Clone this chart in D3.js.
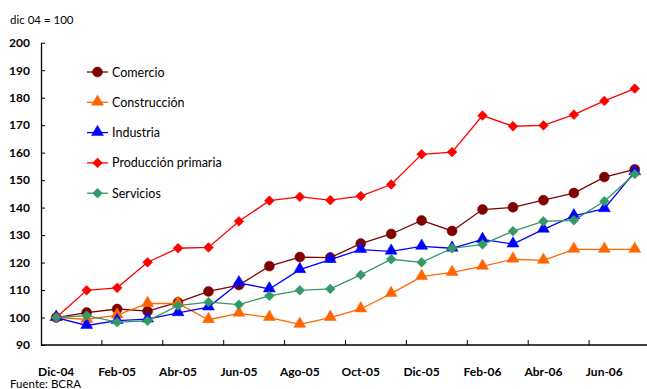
<!DOCTYPE html>
<html>
<head>
<meta charset="utf-8">
<script src="https://cdn.jsdelivr.net/npm/d3@7"></script>
<style>
  html, body { margin: 0; padding: 0; background: #fff; }
  svg { display: block; font-family: Lato, "Open Sans", sans-serif; }
</style>
</head>
<body>
<svg id="chart" width="647" height="389"></svg>
<script>
// Monthly index by sector, base dic 04 = 100
const months = ["Dic-04","Ene-05","Feb-05","Mar-05","Abr-05","May-05","Jun-05","Jul-05","Ago-05","Sep-05",
                "Oct-05","Nov-05","Dic-05","Ene-06","Feb-06","Mar-06","Abr-06","May-06","Jun-06","Jul-06"];
const comercio     = [100,101.8,103.1,102.3,105.5,109.5,111.8,118.7,122.0,121.8,126.9,130.4,135.3,131.5,139.3,140.1,142.7,145.3,151.1,153.9];
const construccion = [100,99.3,100.9,105.1,105.1,99.2,101.5,100.0,97.5,100.0,103.1,108.7,114.9,116.4,118.6,121.2,120.8,124.8,124.8,124.8];
const industria    = [100,97.1,98.9,99.4,101.7,103.8,112.6,110.4,117.4,121.1,124.7,124.1,125.9,125.2,128.4,126.7,132.1,137.0,139.6,153.0];
const produccion   = [100,109.9,110.8,120.1,125.2,125.5,135.0,142.5,143.9,142.7,144.2,148.4,159.4,160.2,173.5,169.6,169.9,173.8,178.8,183.3];
const servicios    = [100,100.7,98.3,98.8,104.3,105.6,104.7,107.9,109.9,110.4,115.5,121.2,120.1,125.2,126.6,131.4,135.0,135.4,142.3,152.2];
const yTicks = [90,100,110,120,130,140,150,160,170,180,190,200];

const series = [
  { name: "Comercio",           values: comercio,     color: "#800000", symbol: "circle"   },
  { name: "Construcción",       values: construccion, color: "#FF6600", symbol: "triangle" },
  { name: "Industria",          values: industria,    color: "#0000FF", symbol: "triangle" },
  { name: "Producción primaria",values: produccion,   color: "#FF0000", symbol: "diamond"  },
  { name: "Servicios",          values: servicios,    color: "#339966", symbol: "diamond"  }
];

const svg = d3.select("#chart");
const plotLeft = 41, plotRight = 650, plotTop = 42.7, plotBottom = 345;

const x = d3.scaleBand().domain(months).range([plotLeft, plotRight]).padding(0);
const y = d3.scaleLinear().domain([90, 200]).range([plotBottom, plotTop]);
const cx = m => x(m) + x.bandwidth() / 2;

// Caption
svg.append("text").attr("x", 10).attr("y", 24)
  .attr("font-size", 11.5).attr("fill", "#000").text("dic 04 = 100");

// Y axis
const yAxis = d3.axisLeft(y).tickValues(yTicks).tickSizeInner(-4).tickSizeOuter(0).tickPadding(11);
const gy = svg.append("g").attr("transform", `translate(${plotLeft},0)`).call(yAxis);
gy.select(".domain").attr("stroke", "#000").attr("stroke-width", 1.3);
gy.selectAll(".tick line").attr("stroke", "#000");
gy.selectAll(".tick text").attr("font-size", 12).attr("font-weight", "bold")
  .attr("font-family", "Lato, sans-serif").attr("fill", "#000");

// X axis: labels every two months, ticks on the category boundaries
const labelMonths = months.filter((d, i) => i % 2 === 0);
const xAxis = d3.axisBottom(x).tickValues(labelMonths).tickSize(0).tickPadding(22);
const gx = svg.append("g").attr("transform", `translate(0,${plotBottom})`).call(xAxis);
gx.select(".domain").remove();
gx.selectAll(".tick text").attr("font-size", 12).attr("font-weight", "bold")
  .attr("font-family", "Lato, sans-serif").attr("fill", "#000");
svg.append("line").attr("x1", plotLeft).attr("x2", 647).attr("y1", plotBottom).attr("y2", plotBottom)
  .attr("stroke", "#000").attr("stroke-width", 1.3);
svg.append("g").selectAll("line").data(labelMonths.slice(1)).join("line")
  .attr("x1", d => x(d)).attr("x2", d => x(d))
  .attr("y1", plotBottom).attr("y2", plotBottom - 5)
  .attr("stroke", "#000");

// Markers
const shapes = {
  circle:   d3.symbol().type(d3.symbolCircle).size(78),
  triangle: d3.symbol().type(d3.symbolTriangle).size(62),
  diamond:  d3.symbol().type(d3.symbolSquare).size(48)
};
function marker(g, s) {
  const p = g.append("path").attr("d", shapes[s.symbol]()).attr("fill", s.color).attr("stroke", s.color).attr("stroke-width", 0.5);
  if (s.symbol === "diamond") p.attr("transform", "rotate(45)");
  if (s.symbol === "triangle") p.attr("transform", "translate(0,-0.5)");
  return p;
}

const line = d3.line().x((d, i) => cx(months[i])).y(d => y(d));
series.forEach(s => {
  const g = svg.append("g");
  g.append("path").datum(s.values).attr("d", line)
    .attr("fill", "none").attr("stroke", s.color).attr("stroke-width", 1.3);
  s.values.forEach((v, i) => {
    const mg = g.append("g").attr("transform", `translate(${cx(months[i])},${y(v)})`);
    marker(mg, s);
  });
});

// Legend
const legend = svg.append("g");
series.forEach((s, i) => {
  const ly = 72 + i * 30.3;
  const row = legend.append("g").attr("transform", `translate(0,${ly})`);
  row.append("line").attr("x1", 87).attr("x2", 108).attr("y1", 0).attr("y2", 0)
    .attr("stroke", s.color).attr("stroke-width", 1.3);
  marker(row.append("g").attr("transform", "translate(97.5,0)"), s);
  row.append("text").attr("x", 112).attr("y", 4.5).attr("font-size", 12.5)
    .attr("fill", "#000").text(s.name);
});

// Source
svg.append("text").attr("x", 10).attr("y", 388).attr("font-size", 11.5)
  .attr("fill", "#000").text("Fuente: BCRA");
</script>
</body>
</html>
